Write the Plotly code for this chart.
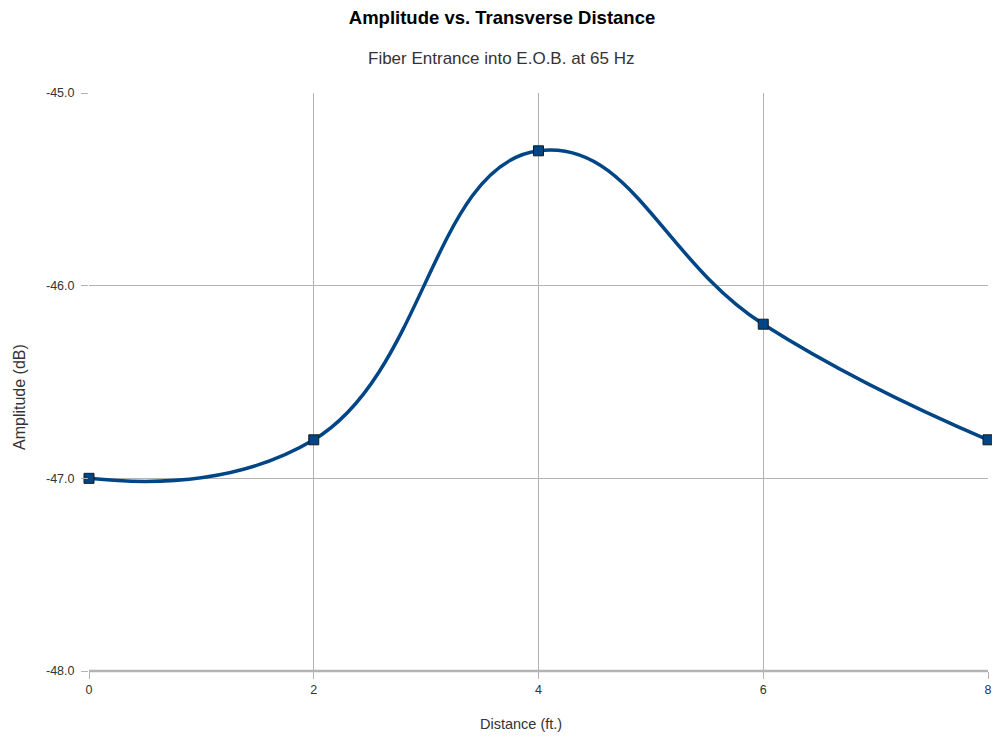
import plotly.graph_objects as go

# Measured data
distance_ft = [0, 2, 4, 6, 8]
amplitude_db = [-47.0, -46.8, -45.3, -46.2, -46.8]

# Axis ticks
x_ticks = [0, 2, 4, 6, 8]
y_ticks = [-48, -47, -46, -45]
y_tick_labels = ['-48.0', '-47.0', '-46.0', '-45.0']

line_color = '#004586'
grid_color = '#b3b3b3'
text_color = '#333333'

# page body has an 8px margin: keep the figure inside the window (984 x 724)
fig_w, fig_h = 984, 724
plot_w, plot_h = 899, 578

fig = go.Figure()

fig.add_trace(go.Scatter(
    x=distance_ft,
    y=amplitude_db,
    mode='lines+markers',
    line=dict(color=line_color, width=3.5, shape='spline', smoothing=1.3),
    marker=dict(symbol='square', size=10, color=line_color,
                line=dict(color='#1a1a1a', width=1)),
    showlegend=False,
    cliponaxis=False
))

fig.update_layout(
    width=fig_w,
    height=fig_h,
    paper_bgcolor='white',
    plot_bgcolor='white',
    font=dict(family='Liberation Sans, Arial, sans-serif', color=text_color),
    margin=dict(l=81, r=fig_w - 81 - plot_w, t=85, b=fig_h - 85 - plot_h, autoexpand=False),
    title=dict(
        text='<b>Amplitude vs. Transverse Distance</b>',
        xref='container', x=494 / fig_w, xanchor='center',
        yref='container', y=1 - 10 / fig_h, yanchor='middle',
        font=dict(size=18.5, color='#000000')
    ),
    annotations=[
        dict(
            text='Fiber Entrance into E.O.B. at 65 Hz',
            xref='paper', yref='paper',
            x=(501 - 89) / plot_w, xanchor='center',
            y=1 + 35 / plot_h, yanchor='middle',
            showarrow=False,
            font=dict(size=17, color=text_color)
        ),
        dict(
            text='Distance (ft.)',
            xref='paper', yref='paper',
            x=(521 - 89) / plot_w, xanchor='center',
            y=-53 / plot_h, yanchor='middle',
            showarrow=False,
            font=dict(size=14.5, color=text_color)
        ),
        dict(
            text='Amplitude (dB)',
            xref='paper', yref='paper',
            x=-70 / plot_w, xanchor='center',
            y=(671 - 397) / plot_h, yanchor='middle',
            textangle=-90,
            showarrow=False,
            font=dict(size=16, color=text_color)
        ),
    ],
    xaxis=dict(
        range=[0, 8],
        tickvals=x_ticks,
        showgrid=True,
        gridcolor=grid_color,
        gridwidth=1,
        zeroline=False,
        showline=False,
        ticks='outside',
        ticklen=7,
        tickcolor=grid_color,
        tickfont=dict(size=12.5, color=text_color),
        automargin=False
    ),
    yaxis=dict(
        range=[-48, -45],
        tickvals=y_ticks,
        ticktext=y_tick_labels,
        showgrid=True,
        gridcolor=grid_color,
        gridwidth=1,
        zeroline=False,
        showline=False,
        ticks='outside',
        ticklen=7,
        ticklabelstandoff=4,
        tickcolor=grid_color,
        tickfont=dict(size=12.5, color=text_color),
        automargin=False
    ),
    shapes=[dict(
        type='line', xref='paper', yref='paper',
        x0=0, x1=1, y0=0, y1=0,
        line=dict(color=grid_color, width=2.5)
    )]
)

fig.write_html("out.html")
